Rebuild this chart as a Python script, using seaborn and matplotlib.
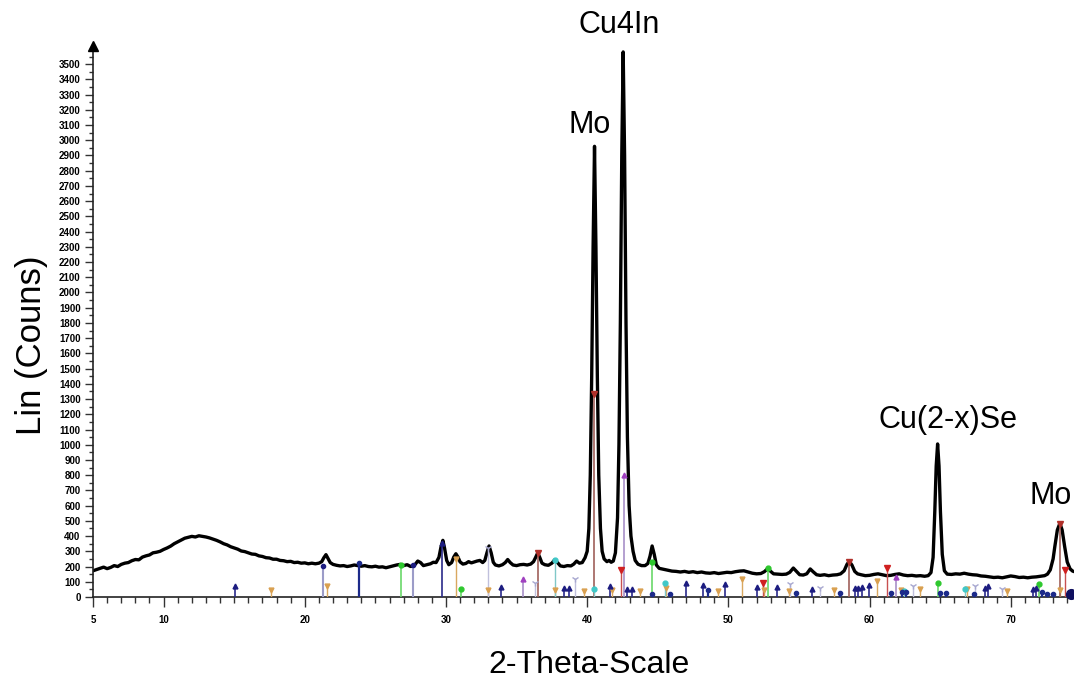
import numpy as np
import pandas as pd
import matplotlib
matplotlib.use("Agg")
import matplotlib.pyplot as plt
from matplotlib.ticker import MultipleLocator, FixedLocator
import seaborn as sns

sns.set_style("ticks")
plt.rcParams["font.family"] = ["Liberation Sans", "DejaVu Sans"]
plt.rcParams["text.color"] = "black"
plt.rcParams["xtick.color"] = "black"
plt.rcParams["ytick.color"] = "black"

# ---- measured scan: 2-theta (deg) and intensity (counts) ----
# low-angle amorphous hump
theta_low = [5.0, 5.25, 5.5, 5.75, 6.0, 6.25, 6.5, 6.75, 7.0, 7.25,
             7.5, 7.75, 8.0, 8.25, 8.5, 8.75, 9.0, 9.25, 9.5, 9.75,
             10.0, 10.25, 10.5, 10.75, 11.0, 11.25, 11.5, 11.75, 12.0, 12.25,
             12.5, 12.75, 13.0, 13.25, 13.5, 13.75, 14.0, 14.25, 14.5, 14.75,
             15.0, 15.25, 15.5, 15.75, 16.0, 16.25, 16.5, 16.75, 17.0, 17.25,
             17.5, 17.75, 18.0, 18.25, 18.5, 18.75, 19.0, 19.25, 19.5, 19.75,
             20.0, 20.25, 20.5, 20.75, 21.0]
counts_low = [172, 180, 188, 196, 186, 194, 206, 200, 214, 222,
              226, 238, 246, 244, 262, 270, 276, 290, 294, 300,
              312, 322, 334, 350, 362, 374, 386, 392, 398, 394,
              402, 398, 394, 388, 380, 372, 362, 350, 342, 330,
              322, 314, 302, 298, 290, 282, 280, 270, 266, 258,
              256, 248, 248, 240, 238, 232, 234, 226, 228, 222,
              224, 218, 222, 218, 222]

# minor reflections 21-40 deg
theta_mid = [21.2, 21.35, 21.5, 21.65, 21.8, 22.0, 22.25, 22.5, 22.75, 23.0,
             23.25, 23.5, 23.75, 24.0, 24.25, 24.5, 24.75, 25.0, 25.25, 25.5,
             25.75, 26.0, 26.25, 26.5, 26.75, 27.0, 27.25, 27.5, 27.75, 28.0,
             28.2, 28.4, 28.65, 28.9, 29.1, 29.3, 29.5, 29.65, 29.78, 29.9,
             30.05, 30.2, 30.4, 30.55, 30.7, 30.85, 31.0, 31.2, 31.4, 31.6,
             31.8, 32.0, 32.2, 32.4, 32.6, 32.75, 32.9, 33.05, 33.2, 33.35,
             33.5, 33.75, 34.0, 34.2, 34.37, 34.55, 34.75, 35.0, 35.25, 35.5,
             35.75, 36.0, 36.2, 36.35, 36.5, 36.65, 36.8, 37.0, 37.25, 37.5,
             37.7, 37.9, 38.1, 38.35, 38.6, 38.85, 39.05, 39.25, 39.45, 39.65,
             39.85]
counts_mid = [232, 258, 278, 252, 226, 214, 208, 204, 206, 200,
              204, 210, 206, 202, 206, 200, 198, 202, 196, 198,
              192, 198, 204, 210, 214, 206, 212, 200, 206, 236,
              226, 206, 212, 218, 228, 226, 260, 330, 372, 320,
              240, 212, 226, 262, 284, 262, 230, 216, 220, 232,
              224, 230, 236, 240, 226, 240, 290, 335, 290, 228,
              210, 204, 212, 226, 246, 226, 210, 206, 212, 214,
              210, 216, 232, 260, 290, 258, 222, 212, 208, 222,
              244, 226, 204, 200, 206, 204, 216, 236, 222, 226,
              258]

# Mo (110) and Cu4In main reflections
theta_main = [40.0, 40.12, 40.22, 40.32, 40.42, 40.52, 40.62, 40.72, 40.82, 40.94,
              41.06, 41.2, 41.4, 41.55, 41.7, 41.85, 42.0, 42.15, 42.25, 42.35,
              42.45, 42.55, 42.65, 42.75, 42.85, 42.97, 43.1, 43.25, 43.4, 43.6,
              43.85, 44.1, 44.3, 44.45, 44.6, 44.75, 44.9, 45.1]
counts_main = [300, 450, 800, 1450, 2300, 2960, 2300, 1450, 800, 450,
               300, 250, 232, 240, 228, 236, 290, 520, 1000, 1800,
               2900, 3580, 2900, 1800, 1050, 600, 400, 300, 240, 215,
               206, 206, 220, 268, 335, 280, 210, 188]

# high-angle range
theta_high = [45.4, 45.7, 46.0, 46.3, 46.6, 46.9, 47.2, 47.5, 47.8, 48.1,
              48.4, 48.7, 49.0, 49.3, 49.6, 49.9, 50.2, 50.5, 50.8, 51.1,
              51.4, 51.7, 52.0, 52.3, 52.55, 52.8, 53.0, 53.2, 53.5, 53.8,
              54.1, 54.35, 54.6, 54.8, 55.05, 55.3, 55.55, 55.8, 56.0, 56.25,
              56.5, 56.8, 57.1, 57.4, 57.7, 57.95, 58.2, 58.4, 58.56, 58.75,
              58.95, 59.15, 59.4, 59.7, 60.0, 60.3, 60.6, 60.9, 61.2, 61.5,
              61.8, 62.1, 62.4, 62.7, 63.0, 63.3, 63.6, 63.9, 64.15, 64.35,
              64.5, 64.62, 64.72, 64.82, 64.92, 65.02, 65.15, 65.3, 65.5, 65.8,
              66.1, 66.4, 66.7, 67.0, 67.3, 67.6, 67.9, 68.2, 68.5, 68.8,
              69.1, 69.4, 69.7, 70.0, 70.3, 70.6, 70.9, 71.2, 71.5, 71.8,
              72.1, 72.4, 72.6, 72.8, 73.0, 73.12, 73.3, 73.48, 73.64, 73.82,
              74.0, 74.2, 74.38, 74.55]
counts_high = [182, 176, 170, 168, 164, 168, 162, 166, 160, 164,
               158, 156, 160, 154, 158, 162, 160, 166, 170, 172,
               164, 156, 152, 154, 166, 188, 168, 152, 150, 148,
               150, 162, 190, 170, 146, 144, 152, 184, 166, 146,
               142, 146, 140, 144, 146, 152, 172, 214, 234, 210,
               168, 152, 146, 140, 142, 148, 152, 146, 140, 142,
               148, 152, 144, 140, 142, 138, 140, 136, 140, 160,
               260, 560, 860, 1005, 860, 560, 280, 172, 150, 148,
               152, 150, 156, 150, 146, 144, 138, 136, 132, 128,
               130, 126, 132, 138, 134, 128, 130, 126, 130, 132,
               136, 140, 150, 178, 250, 330, 440, 484, 440, 330,
               230, 185, 170, 165]

# ---- reference pattern sticks: position (deg) and relative height (counts) ----
navy_arrow_pos = [15.06, 29.7, 33.9, 38.36, 38.7, 41.6, 42.84, 43.2, 46.97, 48.2,
                  49.76, 52.05, 53.45, 55.9, 59.0, 59.2, 59.45, 59.98, 68.2, 68.4,
                  71.6, 71.8]
navy_arrow_int = [74, 355, 64, 60, 60, 70, 55, 55, 94, 79,
                  83, 64, 64, 55, 60, 62, 65, 80, 60, 70,
                  55, 60]
navy_dot_pos = [23.86, 44.6, 45.9, 48.55, 54.8, 57.9, 61.5, 62.3, 62.55, 65.0,
                65.4, 67.4, 72.2, 72.6, 73.0]
navy_dot_int = [221, 18, 20, 45, 25, 25, 25, 30, 30, 25,
                25, 20, 30, 20, 20]
navy_big_pos = [74.25]
navy_big_int = [22]
tan_pos = [17.6, 21.6, 30.69, 33.0, 37.72, 39.8, 41.75, 43.74, 45.6, 49.3,
           51.0, 52.55, 54.3, 57.5, 60.55, 62.2, 63.6, 66.9, 69.7, 73.5]
tan_int = [45, 70, 250, 45, 45, 40, 45, 40, 60, 40,
           116, 45, 40, 45, 105, 45, 50, 50, 40, 45]
green_pos = [26.8, 31.04, 44.6, 52.8, 64.86, 72.0]
green_int = [210, 50, 232, 190, 90, 85]
lavender_pos = [21.3, 27.64]
lavender_int = [203, 210]
pale_pos = [33.0, 36.3, 39.15, 54.35, 56.5, 63.1, 67.45, 69.4]
pale_int = [320, 90, 118, 83, 60, 75, 70, 55]
brown_pos = [36.5, 40.5, 58.56, 73.48]
brown_int = [290, 1330, 230, 480]
red_pos = [42.4, 52.45, 61.25, 73.85]
red_int = [175, 94, 190, 180]
cyan_pos = [37.72, 40.45, 45.5, 62.45, 66.75]
cyan_int = [240, 50, 94, 40, 50]
purple_pos = [35.47, 42.63, 61.85]
purple_int = [116, 800, 130]

# peak labels
label_text = ["Mo", "Cu4In", "Cu(2-x)Se", "Mo"]
label_theta = [40.2, 42.25, 65.55, 72.85]
label_counts = [3100, 3760, 1160, 665]

scan = pd.DataFrame({
    "two_theta": theta_low + theta_mid + theta_main + theta_high,
    "counts": counts_low + counts_mid + counts_main + counts_high,
})

fig = plt.figure(figsize=(10.74, 6.8), dpi=100)
ax = fig.add_axes([0.0866, 0.1221, 0.9134, 0.806])

sns.lineplot(data=scan, x="two_theta", y="counts", color="black",
             linewidth=2.4, estimator=None, sort=False, ax=ax, zorder=2)

# stick patterns: (positions, heights, stem colour, head colour, marker, size, stem width)
sticks = [
    (tan_pos, tan_int, "#d9a860", "#d9a050", "v", 3.5, 1.0),
    (pale_pos, pale_int, "#c0c0dc", "#a8a8d0", "1", 5, 1.0),
    (lavender_pos, lavender_int, "#9c9cc8", "#1c1c80", "o", 3, 1.5),
    (green_pos, green_int, "#6ad86a", "#2ec82e", "o", 3.5, 1.2),
    (brown_pos, brown_int, "#a0605a", "#b0302a", "v", 4, 1.2),
    (red_pos, red_int, "#c85050", "#d02020", "v", 4, 1.0),
    (cyan_pos, cyan_int, "#80c8c8", "#40c8c8", "o", 3.5, 1.0),
    (purple_pos, purple_int, "#a890c8", "#a040c0", "^", 3.5, 1.2),
    (navy_arrow_pos, navy_arrow_int, "#2a2a8a", "#1c1c80", "^", 3.5, 1.2),
    (navy_dot_pos, navy_dot_int, "#1c2a8a", "#1c2a8a", "o", 3, 1.6),
    (navy_big_pos, navy_big_int, "#101060", "#101060", "o", 7, 1.0),
]
for pos, inten, stem_c, head_c, mk, ms, lw in sticks:
    ax.vlines(pos, 0, inten, colors=stem_c, linewidth=lw, zorder=3)
    ax.plot(pos, inten, linestyle="none", marker=mk, color=head_c,
            markersize=ms, zorder=4, clip_on=False)

for txt, tx, ty in zip(label_text, label_theta, label_counts):
    ax.text(tx, ty, txt, fontsize=22, ha="center", va="center",
            color="black", clip_on=False)

ax.set_xlim(5, 74.48)
ax.set_ylim(0, 3600)

ax.xaxis.set_major_locator(FixedLocator([5, 10, 20, 30, 40, 50, 60, 70]))
ax.xaxis.set_minor_locator(MultipleLocator(1))
ax.yaxis.set_major_locator(FixedLocator(list(range(0, 3501, 100))))
ax.yaxis.set_minor_locator(MultipleLocator(50))

ax.tick_params(axis="both", which="major", direction="out", width=1,
               color="#333333", labelsize=7, labelcolor="black")
ax.tick_params(axis="x", which="major", length=7, pad=6)
ax.tick_params(axis="x", which="minor", length=4, width=1, color="#333333")
ax.tick_params(axis="y", which="major", length=6, pad=3)
ax.tick_params(axis="y", which="minor", length=3, width=1, color="#333333")
for lab in ax.get_xticklabels() + ax.get_yticklabels():
    lab.set_fontweight("bold")

ax.set_xlabel("")
ax.set_ylabel("")
for side in ("top", "right"):
    ax.spines[side].set_visible(False)
for side in ("left", "bottom"):
    ax.spines[side].set_linewidth(1.2)
    ax.spines[side].set_color("#222222")

# arrow head on the intensity axis
ax.plot([0], [1.005], marker="^", color="black", markersize=7,
        transform=ax.transAxes, clip_on=False, zorder=5)

fig.text(0.548, 0.022, "2-Theta-Scale", fontsize=23, ha="center", va="center",
         color="black")
fig.text(0.029, 0.493, "Lin (Couns)", fontsize=25, rotation=90,
         ha="center", va="center", color="black")

fig.savefig("out.png", dpi=100, facecolor="white")
